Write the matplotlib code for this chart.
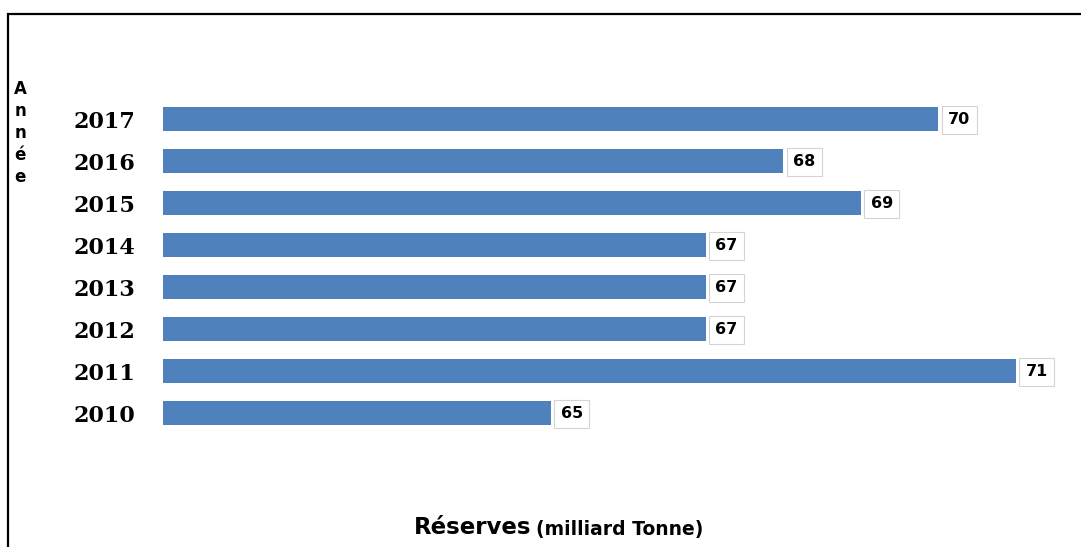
import matplotlib.pyplot as plt
from matplotlib.patches import Rectangle

years = ['2010', '2011', '2012', '2013', '2014', '2015', '2016', '2017']
reserves = [65, 71, 67, 67, 67, 69, 68, 70]

W, H = 1081, 547
fig = plt.figure(figsize=(W / 100, H / 100), dpi=100)

# frame around the chart (cut at the right and bottom)
fig.patches.append(Rectangle((8 / W, -0.1), 1.2, 1.1 - 14 / H, transform=fig.transFigure,
                             fill=False, edgecolor='black', linewidth=1.6))

# axes in pixel terms: left edge at bar start, 42 px per category
ax = fig.add_axes([163 / W, (H - 434) / H, 1 - 163 / W, 336 / H])
ax.barh(range(len(years)), reserves, height=0.57, left=0, color='#4f81bd')
ax.set_xlim(60, 60 + (W - 163) / 77.5)
ax.set_ylim(-0.5, len(years) - 0.5)

ax.set_yticks(range(len(years)))
ax.set_yticklabels(years, family='DejaVu Serif', fontweight='bold', fontsize=16)
ax.tick_params(axis='y', length=0, pad=20)
ax.set_xticks([])
for s in ax.spines.values():
    s.set_visible(False)

for i, v in enumerate(reserves):
    ax.annotate(str(v), (v, i), xytext=(10, -1), textcoords='offset pixels',
                ha='left', va='center', fontsize=11.5, fontweight='bold',
                family='DejaVu Sans',
                bbox=dict(boxstyle='square,pad=0.4', facecolor='white',
                          edgecolor='#d4d4d4', linewidth=0.8))

# axis titles
fig.text(20 / W, 1 - 133 / H, 'A\nn\nn\né\ne', ha='center', va='center',
         fontsize=12, fontweight='bold', family='DejaVu Sans', linespacing=1.3)
fig.text(531 / W, 1 - 527 / H, 'Réserves', ha='right', va='center',
         fontsize=16.5, family='DejaVu Sans', fontweight='bold')
fig.text(536 / W, 1 - 529 / H, '(milliard Tonne)', ha='left', va='center',
         fontsize=13.5, family='DejaVu Sans', fontweight='bold')

fig.savefig('out.png', dpi=100)
